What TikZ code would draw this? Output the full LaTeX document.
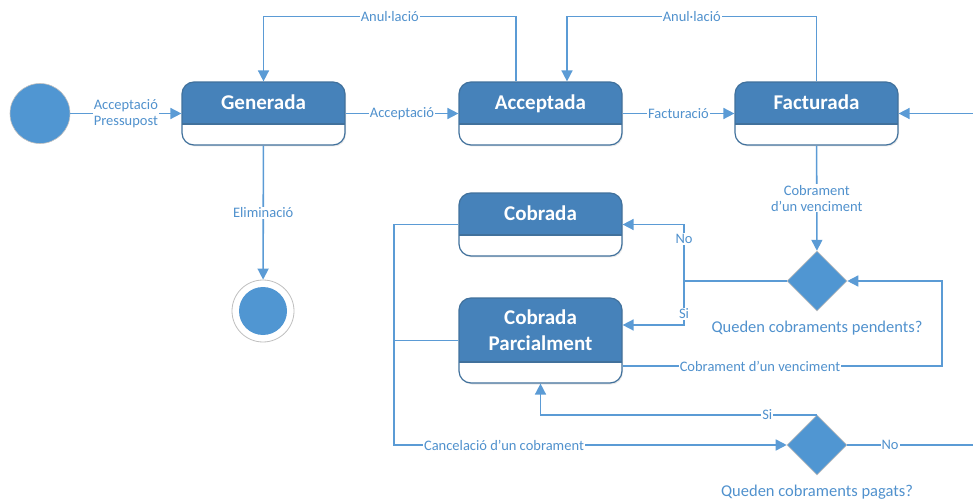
\documentclass[tikz,border=0pt]{standalone}
\usepackage{fontspec}
\setmainfont{Carlito}
\usetikzlibrary{arrows.meta,shapes.geometric,shadows}
\definecolor{headblue}{RGB}{70,130,186}
\definecolor{edgeblue}{RGB}{65,113,156}
\definecolor{lineblue}{RGB}{91,155,213}
\definecolor{dotblue}{RGB}{80,150,210}
\definecolor{txtblue}{RGB}{80,145,205}
\begin{document}
\begin{tikzpicture}[x=1pt,y=-1pt,
  statebox/.style={draw=edgeblue,line width=1.2pt,rounded corners=12pt,fill=white,
    minimum width=163,minimum height=#1,inner sep=0,
    drop shadow={opacity=.18,shadow xshift=1pt,shadow yshift=-1.5pt},
    path picture={\fill[headblue,sharp corners] ([yshift=21pt]path picture bounding box.south west) rectangle (path picture bounding box.north east);
      \draw[edgeblue,line width=1.2pt] ([yshift=21pt]path picture bounding box.south west) -- ([yshift=21pt]path picture bounding box.south east);}},
  title/.style={text=white,font=\fontsize{21}{26}\selectfont\bfseries,align=center},
  oneline/.style={text height=18pt,text depth=4pt},
  flow/.style={draw=lineblue,line width=1.6pt,-{Triangle[length=11pt,width=11pt]}},
  wire/.style={draw=lineblue,line width=1.6pt},
  lbl/.style={fill=white,text=txtblue,font=\fontsize{14.5}{16}\selectfont,inner sep=1pt,align=center},
  ask/.style={text=txtblue,font=\fontsize{16.5}{19}\selectfont},
  decision/.style={diamond,fill=dotblue,draw=black!25,line width=.6pt,minimum width=60,minimum height=60,inner sep=0},
  startdot/.style={circle,fill=dotblue,draw=black!25,line width=.6pt,minimum size=60,inner sep=0},
  enddot/.style={circle,fill=white,draw=black!25,line width=.8pt,minimum size=62,inner sep=0,
    path picture={\fill[dotblue] (path picture bounding box.center) circle (24pt);}}]
\useasboundingbox (0,0) rectangle (973,502);
% states
\node[startdot] (start) at (40,113.5) {};
\node[statebox=63] (generada) at (263.5,113.5) {};
\node[title,oneline] (generadaT) at ([yshift=10.5pt]generada.center) {Generada};
\node[statebox=63] (acceptada) at (540.5,113.5) {};
\node[title,oneline] (acceptadaT) at ([yshift=10.5pt]acceptada.center) {Acceptada};
\node[statebox=63] (facturada) at (816.5,113.5) {};
\node[title,oneline] (facturadaT) at ([yshift=10.5pt]facturada.center) {Facturada};
\node[enddot] (fi) at (263,311) {};
\node[statebox=63] (cobrada) at (540.5,224.5) {};
\node[title,oneline] (cobradaT) at ([yshift=10.5pt]cobrada.center) {Cobrada};
\node[statebox=85] (parcial) at (540.5,340.5) {};
\node[title] (parcialT) at ([yshift=10.5pt]parcial.center) {Cobrada\\Parcialment};
% decisions
\node[decision] (pendents) at (817,281) {};
\node[ask] (pendentsQ) at (817,328) {Queden cobraments pendents?};
\node[decision] (pagats) at (817,445) {};
\node[ask] (pagatsQ) at (817,492) {Queden cobraments pagats?};
\coordinate (entrada) at (973,113.5);
\coordinate (sortida) at (973,445);
\coordinate (bifurca) at (684,281);
\coordinate (tornada) at (942,366);
\coordinate (cancela) at (394,445);
% transitions
\draw[flow] (start) -- node[lbl]{Acceptació\\Pressupost} (generada);
\draw[flow] (generada) -- node[lbl]{Acceptació} (acceptada);
\draw[flow] (acceptada) -- node[lbl]{Facturació} (facturada);
\draw[flow] (entrada) -- (facturada);
\draw[flow] ([xshift=-24.5pt]acceptada.north) -- ++(0,-65) -| node[lbl,pos=.25]{Anul·lació} (generada.north);
\draw[flow] (facturada.north) -- ++(0,-65) -| node[lbl,pos=.25]{Anul·lació} ([xshift=26.5pt]acceptada.north);
\draw[flow] (generada) -- node[lbl]{Eliminació} (fi);
\draw[flow] (facturada) -- node[lbl]{Cobrament\\d’un venciment} (pendents);
\draw[wire] (pendents) -- (bifurca);
\draw[flow] (bifurca) |- node[lbl,pos=.37]{No} (cobrada.east);
\draw[flow] (bifurca) |- node[lbl,pos=.375]{Si} ([yshift=15.5pt]parcial.east);
\draw[flow] ([yshift=-25.5pt]parcial.east) -- node[lbl,pos=.43]{Cobrament d’un venciment} (tornada) |- (pendents.east);
\draw[flow] (pagats.north) -| node[lbl,pos=.09]{Si} (parcial.south);
\draw[wire] (pagats.east) -- node[lbl,pos=.34]{No} (sortida);
\draw[flow] (cobrada.west) -| (cancela) -- node[lbl,pos=.28]{Cancelació d’un cobrament} (pagats.west);
\draw[wire] (parcial.west) -- (parcial.west -| cancela);
\end{tikzpicture}
\end{document}
